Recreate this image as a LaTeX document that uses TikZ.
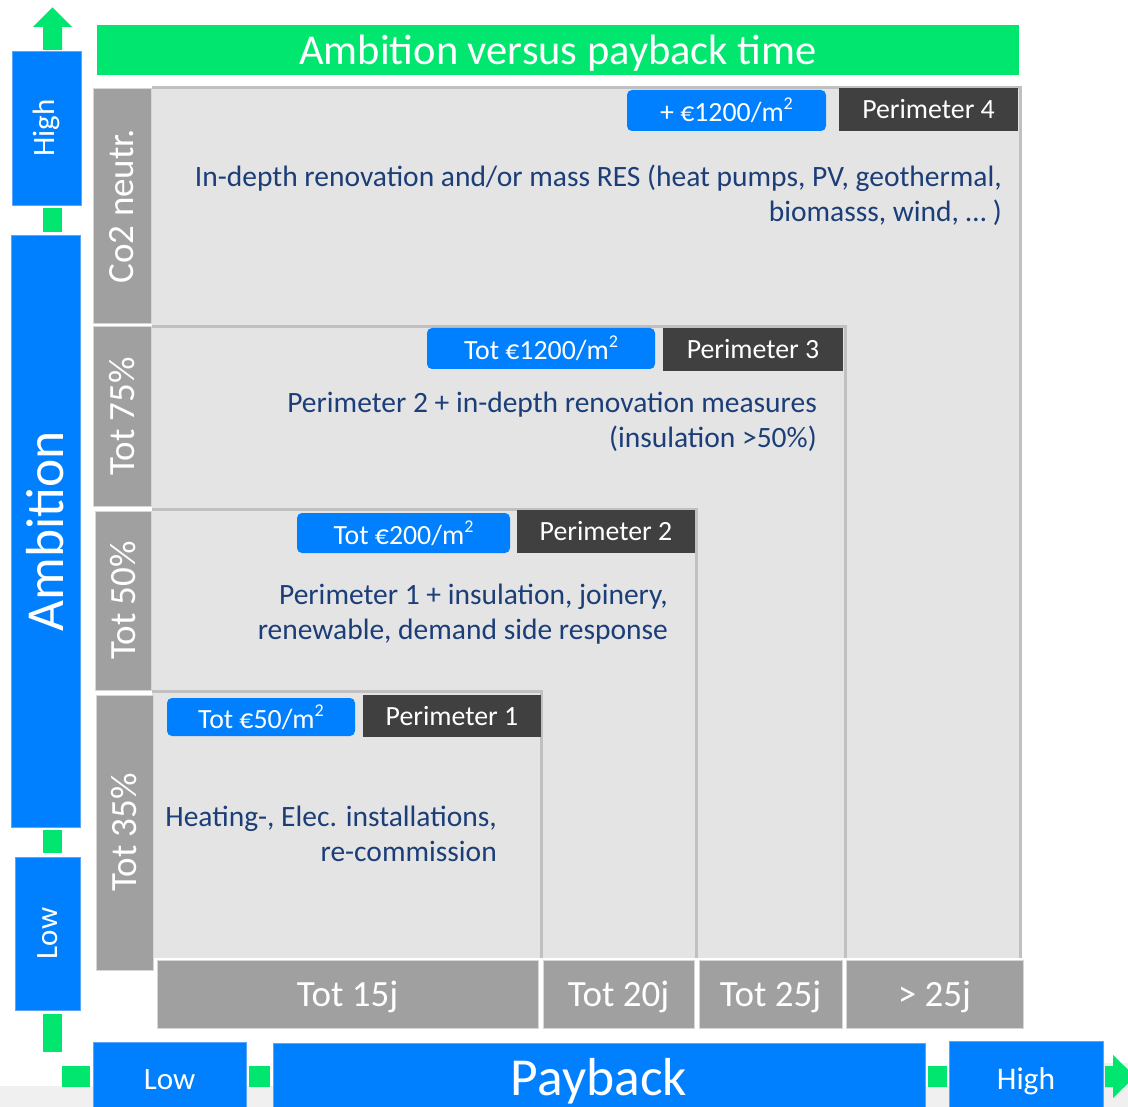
\documentclass[tikz,border=0pt]{standalone}
\usepackage{fontspec}
\setmainfont{Carlito}
\definecolor{pblue}{RGB}{0,128,255}
\definecolor{pblueedge}{RGB}{90,165,255}
\definecolor{pgreen}{RGB}{0,230,110}
\definecolor{pmid}{RGB}{160,160,160}
\definecolor{pmidedge}{RGB}{215,215,215}
\definecolor{pdark}{RGB}{64,64,64}
\definecolor{plight}{RGB}{228,228,228}
\definecolor{pline}{RGB}{192,192,192}
\definecolor{ptext}{RGB}{28,62,120}
\definecolor{pband}{RGB}{240,240,240}
\newcommand\fsz[2]{\fontsize{#1}{#2}\selectfont}
\newcommand\sqm{m\raisebox{0.42em}{\fsz{18}{20}2}}
\tikzset{
  bluebox/.style={fill=pblue, draw=pblueedge, line width=0.8pt, text=white, inner sep=0pt},
  greybox/.style={fill=pmid, draw=pmidedge, line width=1pt, text=white, inner sep=0pt},
  darkbox/.style={fill=pdark, text=white, inner sep=0pt, font=\fsz{27.8}{30}},
  costbox/.style={fill=pblue, rounded corners=5pt, text=white, inner sep=0pt, font=\fsz{27.8}{30}},
  region/.style={fill=plight, inner sep=0pt},
  regedge/.style={draw=pline, line width=3pt},
  gsq/.style={fill=pgreen, inner sep=0pt},
  body/.style={text=ptext, align=right, inner sep=0pt, font=\fsz{29.5}{35}},
  lvl/.style={greybox, font=\fsz{37}{40}},
}
\begin{document}
\begin{tikzpicture}[x=1pt,y=-1pt]
\clip (0,0) rectangle (1128,1107);
\fill[white] (0,0) rectangle (1128,1107);
\fill[pband] (0,1086) rectangle (1128,1107);
\fill[pband] (1103,1063) rectangle (1128,1107);

% title
\node[fill=pgreen, minimum width=922pt, minimum height=50pt, text=white, font=\fsz{42.5}{46}, inner sep=0pt, text depth=0pt] (title) at (558,50) {Ambition versus payback time};

% nested regions
\node[region, minimum width=868pt, minimum height=870pt] (r4) at (586,523) {};
\draw[regedge] (r4.north west) -- (r4.north east) -- (r4.south east);
\node[region, minimum width=693pt, minimum height=631pt] (r3) at (498.5,642.5) {};
\draw[regedge] (r3.north west) -- (r3.north east) -- (r3.south east);
\node[region, minimum width=544pt, minimum height=448pt] (r2) at (424,734) {};
\draw[regedge] (r2.north west) -- (r2.north east) -- (r2.south east);
\node[region, minimum width=389pt, minimum height=266pt] (r1) at (346.5,825) {};
\draw[regedge] (r1.north west) -- (r1.north east) -- (r1.south east);

% ambition levels
\node[lvl, rotate=90, minimum width=235pt, minimum height=58pt] (co2) at (122,206) {Co2 neutr.};
\node[lvl, rotate=90, minimum width=179pt, minimum height=58pt] (a75) at (122,416.5) {Tot 75\%};
\node[lvl, rotate=90, minimum width=179pt, minimum height=56pt] (a50) at (123,600.5) {Tot 50\%};
\node[lvl, rotate=90, minimum width=275pt, minimum height=57pt] (a35) at (124.5,832.5) {Tot 35\%};

% payback levels
\node[lvl, text depth=0pt, minimum width=381pt, minimum height=68pt] (y15) at (347.5,994) {Tot 15j};
\node[lvl, text depth=0pt, minimum width=151pt, minimum height=68pt] (y20) at (618.5,994) {Tot 20j};
\node[lvl, text depth=0pt, minimum width=143pt, minimum height=68pt] (y25) at (770.5,994) {Tot 25j};
\node[lvl, text depth=0pt, minimum width=177pt, minimum height=68pt] (y25p) at (934.5,994) {> 25j};

% region texts
\node[body, anchor=east] (t4) at (1002,195.5) {In-depth renovation and/or mass RES (heat pumps, PV, geothermal,\\ biomasss, wind, … )};
\node[body, anchor=east] (t3) at (817,422) {Perimeter 2 + in-depth renovation measures\\ (insulation >50\%)};
\node[body, anchor=east] (t2) at (668,614.5) {Perimeter 1 + insulation, joinery,\\ renewable, demand side response};
\node[body, anchor=east] (t1) at (497,833.5) {Heating-, Elec. installations,\\ re-commission};

% cost and perimeter labels
\node[costbox, minimum width=199pt, minimum height=41pt] (c4) at (726.5,110.5) {+ €1200/\sqm};
\node[darkbox, minimum width=179pt, minimum height=43pt] (p4) at (928.5,109.5) {Perimeter 4};
\node[costbox, minimum width=228pt, minimum height=41pt] (c3) at (541,348.5) {Tot €1200/\sqm};
\node[darkbox, minimum width=180pt, minimum height=43pt] (p3) at (753,349.5) {Perimeter 3};
\node[costbox, minimum width=213pt, minimum height=40pt] (c2) at (403.5,533) {Tot €200/\sqm};
\node[darkbox, minimum width=178pt, minimum height=43pt] (p2) at (606,531.5) {Perimeter 2};
\node[costbox, minimum width=188pt, minimum height=38pt] (c1) at (261,717) {Tot €50/\sqm};
\node[darkbox, minimum width=178pt, minimum height=42pt] (p1) at (452,716) {Perimeter 1};

% ambition axis
\fill[pgreen] (43,50) -- (43,27) -- (33,27) -- (52.5,7.5) -- (72,27) -- (62,27) -- (62,50) -- cycle;
\node[bluebox, rotate=90, minimum width=154pt, minimum height=69pt, font=\fsz{31}{34}] (highA) at (46.5,128) {High};
\node[gsq, minimum width=19pt, minimum height=24pt] (g1) at (52.5,220) {};
\node[bluebox, rotate=90, minimum width=592pt, minimum height=69pt, font=\fsz{53.5}{56}] (amb) at (45.5,531) {Ambition};
\node[gsq, minimum width=19pt, minimum height=23pt] (g2) at (52.5,841.5) {};
\node[bluebox, rotate=90, minimum width=153pt, minimum height=65pt, font=\fsz{31}{34}] (lowA) at (47.5,933.5) {Low};
\node[gsq, minimum width=19pt, minimum height=38pt] (g3) at (52.5,1032.5) {};

% payback axis
\node[gsq, minimum width=28pt, minimum height=21pt] (g4) at (76,1076.5) {};
\node[bluebox, minimum width=153pt, minimum height=76pt, font=\fsz{31}{34}] (lowP) at (169.5,1080) {Low};
\node[gsq, minimum width=21pt, minimum height=21pt] (g5) at (259.5,1076.5) {};
\node[bluebox, minimum width=652pt, minimum height=76pt, font=\fsz{53.5}{56}] (pay) at (599,1081) {Payback};
\node[gsq, minimum width=19pt, minimum height=21pt] (g6) at (937.5,1076.5) {};
\node[bluebox, minimum width=154pt, minimum height=80pt, font=\fsz{31.5}{34}] (highP) at (1026,1081) {High};
\fill[pgreen] (1105,1066) -- (1113,1066) -- (1113,1055) -- (1135,1076.5) -- (1113,1098) -- (1113,1087) -- (1105,1087) -- cycle;
\end{tikzpicture}
\end{document}
